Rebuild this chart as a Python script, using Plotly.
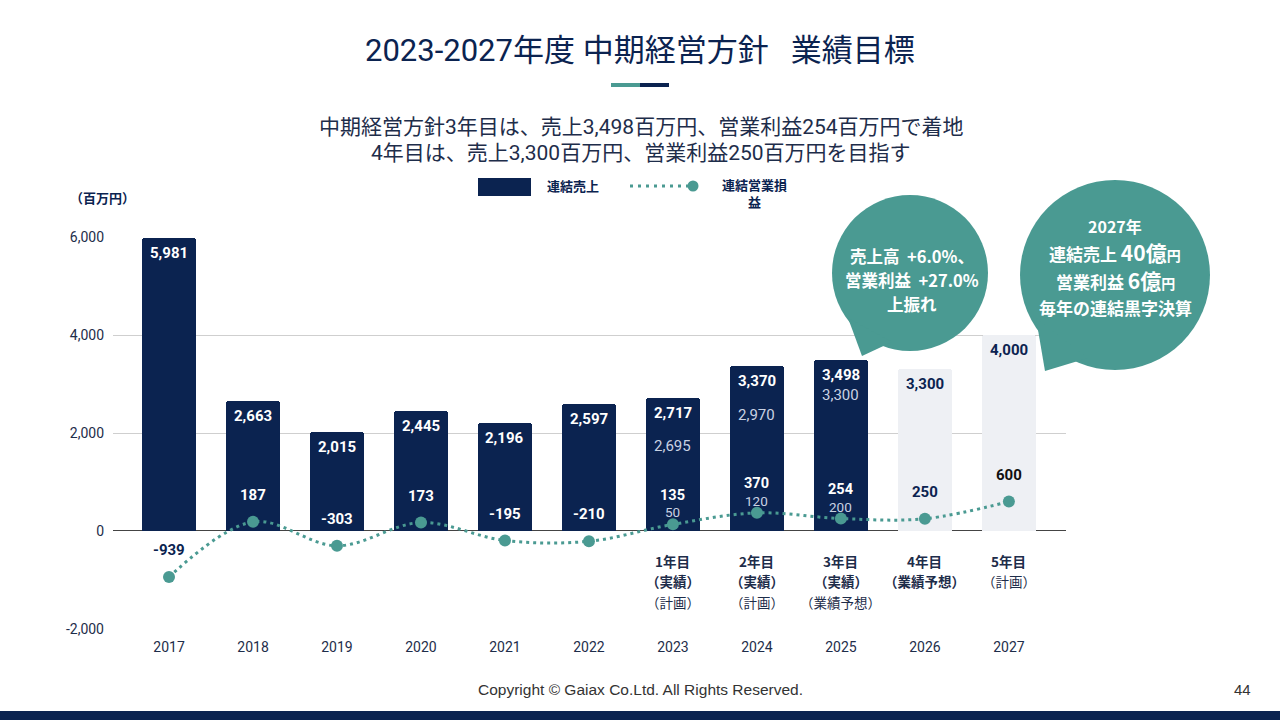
import plotly.graph_objects as go

# ---------------- data ----------------
years = ["2017", "2018", "2019", "2020", "2021", "2022", "2023", "2024", "2025", "2026", "2027"]
sales = [5981, 2663, 2015, 2445, 2196, 2597, 2717, 3370, 3498, 3300, 4000]
profit = [-939, 187, -303, 173, -195, -210, 135, 370, 254, 250, 600]
sales_plan = [None, None, None, None, None, None, 2695, 2970, 3300, None, None]
profit_plan = [None, None, None, None, None, None, 50, 120, 200, None, None]
is_actual = [True, True, True, True, True, True, True, True, True, False, False]
year_notes = [
    [], [], [], [], [], [],
    [("1年目", True), ("（実績）", True), ("（計画）", False)],
    [("2年目", True), ("（実績）", True), ("（計画）", False)],
    [("3年目", True), ("（実績）", True), ("（業績予想）", False)],
    [("4年目", True), ("（業績予想）", True)],
    [("5年目", True), ("（計画）", False)],
]
y_ticks = [-2000, 0, 2000, 4000, 6000]
y_ticktext = [f"{v:,}" for v in y_ticks]

# ---------------- styles ----------------
NAVY = "#0b2350"
TEAL = "#4a9a92"
LIGHT = "#eef0f4"
TEXT = "#1e2d4a"
PLAN_TXT = "#c9d2e3"
FONT = "Roboto, 'Noto Sans CJK JP', sans-serif"
CJK = "'Noto Sans CJK JP', Roboto, sans-serif"
ARIAL = "'Liberation Sans', Arial, sans-serif"

W, H = 1280, 720
L, R, T, B = 113, 1066, 237, 629
YMIN, YMAX = -2000, 6000


def px(x):
    return (x - L) / (R - L)


def py(y):
    return (B - y) / (B - T)


xs = list(range(len(years)))
bar_colors = [NAVY if a else LIGHT for a in is_actual]

fig = go.Figure()
fig.add_bar(
    x=xs, y=sales, width=0.64,
    marker=dict(color=bar_colors, cornerradius=3, line=dict(width=0)),
    hoverinfo="skip",
)
fig.add_scatter(
    x=xs, y=profit, mode="lines+markers",
    line=dict(color=TEAL, width=3, dash="3px,4px", shape="spline", smoothing=1),
    marker=dict(size=12, color=TEAL),
    cliponaxis=False, hoverinfo="skip",
)

ann = []
px_per_unit = (B - T) / (YMAX - YMIN)

for i, v in enumerate(sales):
    col = "white" if is_actual[i] else NAVY
    ann.append(dict(x=i, y=v, xref="x", yref="y", yshift=-15, showarrow=False,
                    text=f"<b>{v:,}</b>", font=dict(family=FONT, size=15, color=col)))
plan_shift = {6: -48, 7: -49, 8: -35}
for i, v in enumerate(sales_plan):
    if v is not None:
        ann.append(dict(x=i, y=sales[i], xref="x", yref="y", yshift=plan_shift[i], showarrow=False,
                        text=f"{v:,}", font=dict(family=FONT, size=15, color=PLAN_TXT)))

for i, v in enumerate(profit):
    label_val = v + 27 / px_per_unit
    inside = is_actual[i] and label_val > 0
    col = "white" if inside else ("#111111" if i == len(profit) - 1 else NAVY)
    has_plan = profit_plan[i] is not None
    ann.append(dict(x=i, y=v, xref="x", yref="y", yshift=29 if has_plan else 27, showarrow=False,
                    text=f"<b>{v:,}</b>", font=dict(family=FONT, size=14.5 if has_plan else 15, color=col)))
    if has_plan:
        ann.append(dict(x=i, y=v, xref="x", yref="y", yshift=12, showarrow=False,
                        text=f"{profit_plan[i]:,}", font=dict(family=FONT, size=13.5, color=PLAN_TXT)))

note_shifts = [-30, -50, -71]
for i, notes in enumerate(year_notes):
    for k, (t, bold) in enumerate(notes):
        ann.append(dict(x=i, y=0, xref="x", yref="y", yshift=note_shifts[k], showarrow=False,
                        text=f"<b>{t}</b>" if bold else t,
                        font=dict(family=CJK, size=13.5, color=TEXT)))


def ptext(x, y, text, size, color=TEXT, family=CJK, xanchor="center"):
    ann.append(dict(x=px(x), y=py(y), xref="paper", yref="paper", showarrow=False,
                    text=text, xanchor=xanchor, yanchor="middle",
                    font=dict(family=family, size=size, color=color)))


# titles
ptext(640, 50, "2023-2027年度 中期経営方針\u2002\u2009業績目標", 31, NAVY, FONT)
ptext(641, 127, "中期経営方針3年目は、売上3,498百万円、営業利益254百万円で着地", 21, TEXT, FONT)
ptext(641, 153, "4年目は、売上3,300百万円、営業利益250百万円を目指す", 21, TEXT, FONT)
ptext(102, 197, "<b>（百万円）</b>", 13, NAVY)

# legend text
ptext(573, 185, "<b>連結売上</b>", 13, NAVY)
ptext(754, 193, "<b>連結営業損<br>益</b>", 13, NAVY)

# bubble texts
ptext(912, 256, "<b>売上高  +6.0%、</b>", 16.5, "white")
ptext(912, 280, "<b>営業利益  +27.0%</b>", 16.5, "white")
ptext(912, 304, "<b>上振れ</b>", 16.5, "white")
ptext(1115, 226, "<b>2027年</b>", 16, "white")
ptext(1115, 252, "<b>連結売上 <span style='font-size:21px'>40億</span><span style='font-size:14px'>円</span></b>", 17, "white")
ptext(1115, 280, "<b>営業利益 <span style='font-size:21px'>6億</span><span style='font-size:14px'>円</span></b>", 17, "white")
ptext(1115, 307, "<b>毎年の連結黒字決算</b>", 17, "white")

# footer
ptext(640, 689, "Copyright © Gaiax Co.Ltd. All Rights Reserved.", 15.5, "#333333", ARIAL)
ptext(1242, 689, "44", 15, "#333333", ARIAL)

shapes = []


def prect(x0, y0, x1, y1, color):
    shapes.append(dict(type="rect", xref="paper", yref="paper", x0=px(x0), x1=px(x1),
                       y0=py(y1), y1=py(y0), fillcolor=color, line=dict(width=0)))


def pcircle(cx, cy, r, color):
    shapes.append(dict(type="circle", xref="paper", yref="paper", x0=px(cx - r), x1=px(cx + r),
                       y0=py(cy + r), y1=py(cy - r), fillcolor=color, line=dict(width=0)))


def ppath(points, color):
    d = "M " + " L ".join(f"{px(a):.5f},{py(b):.5f}" for a, b in points) + " Z"
    shapes.append(dict(type="path", xref="paper", yref="paper", path=d,
                       fillcolor=color, line=dict(width=0)))


# title decoration
prect(611, 83, 640, 87, TEAL)
prect(640, 83, 669, 87, NAVY)
# legend
prect(478, 178, 531, 196, NAVY)
shapes.append(dict(type="line", xref="paper", yref="paper", x0=px(630), x1=px(688),
                   y0=py(186), y1=py(186), line=dict(color=TEAL, width=3, dash="3px,5px")))
pcircle(693, 186, 5.5, TEAL)
# bubbles
pcircle(910, 273, 78, TEAL)
ppath([(848, 318), (892, 342), (862, 356)], TEAL)
pcircle(1115, 275, 95, TEAL)
ppath([(1036, 318), (1088, 358), (1045, 371)], TEAL)
# bottom band
prect(0, 711, 1280, 721, NAVY)

fig.update_layout(
    width=W, height=H, autosize=False,
    margin=dict(l=L, r=W - R, t=T, b=H - B, pad=0),
    paper_bgcolor="white", plot_bgcolor="white",
    showlegend=False, bargap=0,
    annotations=ann, shapes=shapes,
    font=dict(family=FONT, color=TEXT),
    xaxis=dict(range=[-0.667, 10.68], tickvals=xs, ticktext=years, showgrid=False,
               zeroline=False, showline=False, ticks="", ticklabelstandoff=8,
               tickfont=dict(family=FONT, size=14, color=TEXT), fixedrange=True),
    yaxis=dict(range=[YMIN - 1, YMAX + 1], tickvals=y_ticks, ticktext=y_ticktext, showgrid=True,
               gridcolor="#cfcfcf", gridwidth=1, zeroline=True, zerolinecolor="#444444",
               zerolinewidth=1, showline=False, ticks="", ticklabelstandoff=8,
               tickfont=dict(family=FONT, size=14, color=TEXT), fixedrange=True),
)

fig.write_html("out.html", post_script="document.body.style.margin='0';document.body.style.overflow='hidden';",
               config={"displayModeBar": False})
